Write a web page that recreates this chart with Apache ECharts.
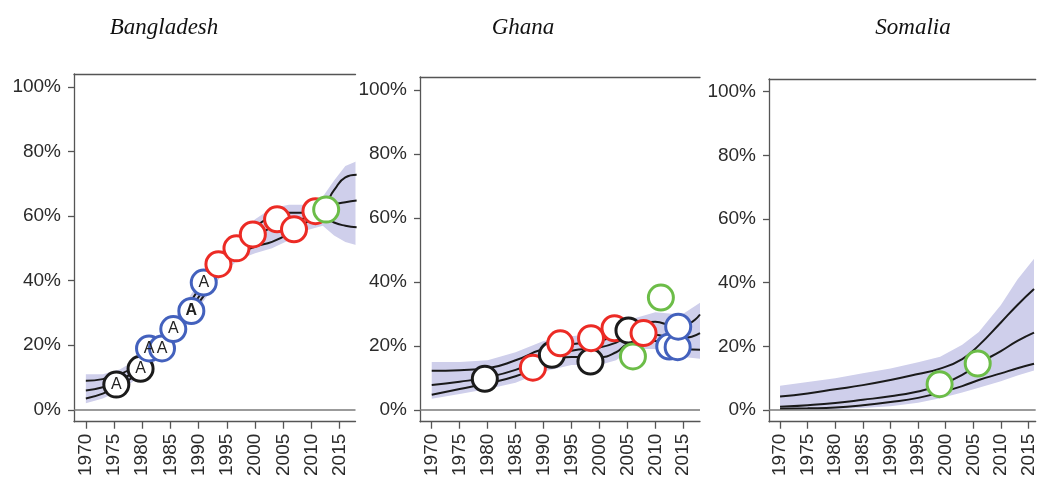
<!DOCTYPE html>
<html>
<head>
<meta charset="utf-8">
<script src="https://cdn.jsdelivr.net/npm/echarts@6/dist/echarts.min.js"></script>
<style>
  html, body { margin: 0; padding: 0; background: #fff; }
  #chart { width: 1038px; height: 479px; }
</style>
</head>
<body>
<div id="chart"></div>
<script>
// Tick labels shared by all three panels
const YEAR_TICKS = [1970, 1975, 1980, 1985, 1990, 1995, 2000, 2005, 2010, 2015];
const PCT_TICKS = [0, 20, 40, 60, 80, 100];
const COUNTRIES = ['Bangladesh', 'Ghana', 'Somalia'];

// Bangladesh: model estimate (median, 80% bounds) and 95% band
const bdYears   = [1970, 1973, 1976, 1979, 1982, 1985, 1988, 1991, 1994, 1997, 2000, 2003, 2006, 2009, 2012, 2014, 2016, 2018];
const bdMid     = [6, 7, 9, 12.5, 17.5, 23.5, 30, 37.5, 45, 50, 53.5, 56.5, 58, 59.5, 62, 63.5, 64.3, 64.8];
const bdUpper   = [9, 9.5, 11, 14, 19, 25, 32, 40, 47, 52, 56.5, 60, 61, 61, 63, 68, 72, 72.8];
const bdLower   = [3.5, 5, 7.5, 11, 16, 22, 28.5, 35.5, 43, 48, 50.5, 52, 54.5, 58, 60, 58, 57, 56.5];
const bdBandHi  = [11, 11, 12.5, 15.5, 20.5, 26.5, 34, 42, 49, 54, 59, 62.5, 63.5, 63.5, 66, 71, 75.5, 77];
const bdBandLo  = [2, 3.5, 6, 9.5, 14.5, 20.5, 27, 34, 41.5, 46.5, 48.5, 50, 52.5, 55.5, 57, 54, 52, 51];
// Bangladesh: survey observations [year, %]
const bdBlack   = [[1975.4, 7.8], [1979.7, 12.7]];
const bdBlackTx = ['A', 'A'];
const bdBlue    = [[1981.2, 19.0], [1983.5, 19.0], [1985.5, 25.0], [1988.7, 30.6], [1990.9, 39.4]];
const bdBlueTx  = ['A', 'A', 'A', 'A', 'A'];
const bdBlueBold = [false, false, false, true, false];
const bdRed     = [[1993.5, 45.1], [1996.7, 50.0], [1999.6, 54.3], [2003.9, 59.0], [2006.9, 55.9], [2010.7, 61.5]];
const bdGreen   = [[2012.6, 62.0]];

// Ghana
const ghYears   = [1970, 1975, 1980, 1985, 1990, 1995, 2000, 2003, 2005, 2008, 2010, 2013, 2015, 2018];
const ghMid     = [7.8, 8.8, 10.2, 12.5, 16, 18.5, 19.5, 21, 23, 23.5, 23.5, 22.5, 22.5, 24];
const ghUpper   = [12.2, 12.4, 13, 15.5, 19, 20.5, 21.5, 23.5, 25.5, 27, 27.5, 26.5, 26.5, 29.8];
const ghLower   = [4.7, 6.5, 8.3, 10.5, 14, 16.5, 16.5, 18, 20.5, 21.5, 21.5, 19.5, 19, 18.8];
const ghBandHi  = [15, 15, 15.5, 18, 21.5, 23, 24, 26, 28, 29.5, 30.5, 30, 30, 33.5];
const ghBandLo  = [3.5, 5, 6.5, 8.5, 12, 14, 14, 15.5, 18, 19, 19, 17, 16.5, 16];
const ghBlack   = [[1979.5, 9.7], [1991.5, 17.2], [1998.4, 15.1], [2005.2, 24.8]];
const ghRed     = [[1988.1, 13.2], [1993.0, 20.8], [1998.5, 22.4], [2002.7, 25.5], [2007.9, 24.0]];
const ghGreen   = [[2006.0, 16.7], [2011.0, 35.1]];
const ghBlue    = [[2012.5, 19.8], [2014.0, 19.6], [2014.1, 26.0]];

// Somalia
const soYears   = [1970, 1975, 1980, 1985, 1990, 1995, 1999, 2003, 2006, 2010, 2013, 2016];
const soMid     = [1.0, 1.5, 2.2, 3.2, 4.3, 5.8, 7.8, 11, 14.6, 18.5, 21.7, 24.3];
const soUpper   = [4.2, 5.2, 6.5, 7.8, 9.4, 11.3, 13, 16, 20.3, 27.5, 33, 38];
const soLower   = [0.3, 0.5, 0.8, 1.5, 2.5, 3.8, 5.5, 7.5, 9.4, 11.5, 13.1, 14.5];
const soBandHi  = [7.6, 8.8, 10, 11.5, 13, 15, 16.7, 20.5, 24.5, 33, 41, 47.5];
const soBandLo  = [0, 0, 0.2, 0.6, 1.2, 2.3, 3.7, 5.5, 7, 9, 10.8, 12.4];
const soGreen   = [[1998.9, 8.1], [2005.8, 14.6]];

// Colours by data source
const SRC = { black: '#1b1b1b', blue: '#4361bd', red: '#ec2b25', green: '#6cbd48' };

function obs(points, color, texts, bold) {
  return points.map((p, i) => ({
    value: p, color: color,
    text: texts ? texts[i] : '',
    bold: bold ? bold[i] : false
  }));
}

const panelData = [
  {
    years: bdYears, mid: bdMid, upper: bdUpper, lower: bdLower, hi: bdBandHi, lo: bdBandLo,
    points: [].concat(obs(bdBlack, SRC.black, bdBlackTx), obs(bdBlue, SRC.blue, bdBlueTx, bdBlueBold),
                      obs(bdRed, SRC.red), obs(bdGreen, SRC.green)),
    grid: { left: 74, top: 74, width: 281.5, height: 349 }, xMin: 1967.9, xMax: 2017.8, titleX: 159
  },
  {
    years: ghYears, mid: ghMid, upper: ghUpper, lower: ghLower, hi: ghBandHi, lo: ghBandLo,
    points: [].concat(obs(ghBlack, SRC.black), obs(ghRed, SRC.red), obs(ghGreen, SRC.green), obs(ghBlue, SRC.blue)),
    grid: { left: 420, top: 77, width: 280, height: 345 }, xMin: 1967.9, xMax: 2018.0, titleX: 518
  },
  {
    years: soYears, mid: soMid, upper: soUpper, lower: soLower, hi: soBandHi, lo: soBandLo,
    points: obs(soGreen, SRC.green),
    grid: { left: 769, top: 79, width: 270, height: 343 }, xMin: 1968.0, xMax: 2016.3, titleX: 908
  }
];

const AXIS_COLOR = '#555';
const LABEL_FONT = { fontFamily: 'Liberation Sans, Arial, sans-serif', fontSize: 19, color: '#2b2b2b' };

const option = {
  animation: false,
  backgroundColor: '#fff',
  title: [], grid: [], xAxis: [], yAxis: [], series: []
};

panelData.forEach((p, i) => {
  option.title.push({
    text: COUNTRIES[i], left: p.titleX, top: 11, textAlign: 'center',
    textStyle: { fontFamily: 'Liberation Serif, Times New Roman, serif', fontStyle: 'italic',
                 fontWeight: 'normal', fontSize: 23, color: '#111' }
  });
  option.grid.push(Object.assign({ containLabel: false }, p.grid));

  // bottom axis with year ticks
  option.xAxis.push({
    type: 'value', gridIndex: i, min: p.xMin, max: p.xMax, position: 'bottom',
    axisLine: { show: true, onZero: false, lineStyle: { color: AXIS_COLOR, width: 1.3 } },
    axisTick: { show: true, customValues: YEAR_TICKS, length: 7, lineStyle: { color: AXIS_COLOR, width: 1.3 } },
    axisLabel: Object.assign({ customValues: YEAR_TICKS, rotate: 90, margin: 12,
                               formatter: v => String(Math.round(v)) }, LABEL_FONT),
    splitLine: { show: false }
  });
  // top frame line
  option.xAxis.push({
    type: 'value', gridIndex: i, min: p.xMin, max: p.xMax, position: 'top',
    axisLine: { show: true, onZero: false, lineStyle: { color: AXIS_COLOR, width: 1.3 } },
    axisTick: { show: false }, axisLabel: { show: false }, splitLine: { show: false }
  });
  option.yAxis.push({
    type: 'value', gridIndex: i, min: -3.7, max: 104,
    axisLine: { show: true, onZero: false, lineStyle: { color: AXIS_COLOR, width: 1.3 } },
    axisTick: { show: true, customValues: PCT_TICKS, length: 6, lineStyle: { color: AXIS_COLOR, width: 1.3 } },
    axisLabel: Object.assign({ customValues: PCT_TICKS, margin: 13, formatter: '{value}%' }, LABEL_FONT),
    splitLine: { show: false }
  });

  const xi = i * 2, yi = i;
  // 95% uncertainty band as one polygon: upper edge forward, lower edge back
  option.series.push({
    type: 'custom', xAxisIndex: xi, yAxisIndex: yi, z: 1, silent: true,
    data: [[p.years[0], p.lo[0]]],
    renderItem: (params, api) => {
      const top = p.years.map((y, k) => api.coord([y, p.hi[k]]));
      const bottom = p.years.map((y, k) => api.coord([y, p.lo[k]])).reverse();
      const cs = params.coordSys;
      return {
        type: 'group',
        clipPath: { type: 'rect', shape: { x: cs.x, y: cs.y, width: cs.width, height: cs.height } },
        children: [{
          type: 'polygon',
          shape: { points: top.concat(bottom) },
          style: { fill: '#cfcfeb', stroke: null }
        }]
      };
    },
    markLine: {
      silent: true, symbol: 'none', label: { show: false },
      lineStyle: { color: '#7a7a7a', width: 1.5, type: 'solid' },
      data: [{ yAxis: 0 }]
    }
  });
  // median and 80% bounds
  [p.upper, p.mid, p.lower].forEach(arr => {
    option.series.push({
      type: 'line', xAxisIndex: xi, yAxisIndex: yi, smooth: 0.5,
      data: p.years.map((y, k) => [y, arr[k]]),
      showSymbol: false, z: 3, silent: true,
      lineStyle: { color: '#1a1a1a', width: 2 }
    });
  });
  // observations, drawn in chronological order
  const pts = p.points.slice().sort((a, b) => a.value[0] - b.value[0]);
  option.series.push({
    type: 'scatter', xAxisIndex: xi, yAxisIndex: yi, z: 5, symbolSize: 25,
    data: pts.map(o => ({
      value: o.value,
      itemStyle: { color: '#fff', borderColor: o.color, borderWidth: 3, opacity: 1 },
      label: {
        show: !!o.text, formatter: o.text, position: 'inside',
        fontFamily: 'Liberation Sans, Arial, sans-serif', fontSize: 16,
        fontWeight: o.bold ? 'bold' : 'normal', color: '#222'
      }
    }))
  });
});

const chart = echarts.init(document.getElementById('chart'), null, { renderer: 'canvas' });
chart.setOption(option);
</script>
</body>
</html>
